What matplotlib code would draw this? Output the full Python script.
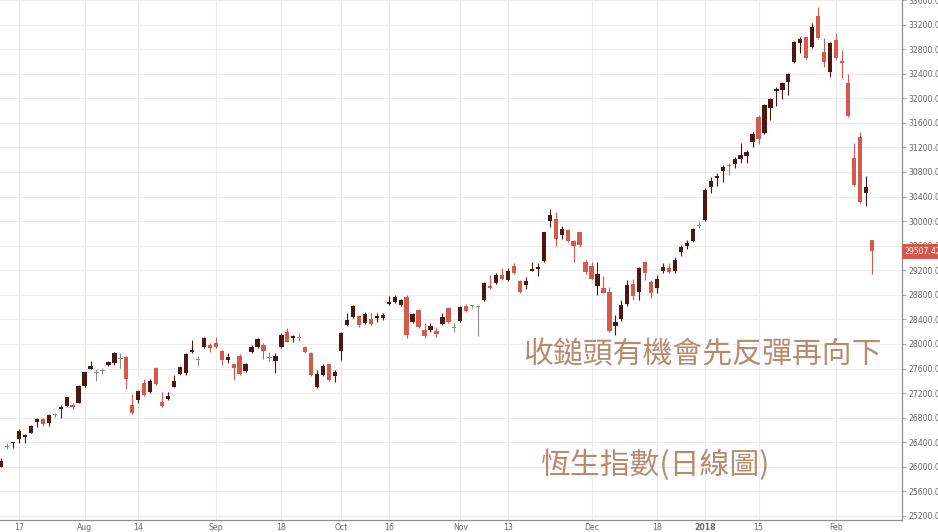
import numpy as np
import matplotlib.pyplot as plt
from matplotlib.ticker import FixedLocator

# daily OHLC, Hang Seng Index, early Jul 2017 - 9 Feb 2018
opens = [26000, 26330, 26385, 26453, 26480, 26556, 26735, 26779, 26709, 26840,
         26937, 26990, 27000, 27044, 27321, 27598, 27540, 27560, 27658, 27685,
         27750, 27793, 27002, 27088, 27360, 27223, 27614, 27050, 27099, 27305,
         27506, 27533, 27865, 27745, 27956, 27983, 28021, 27886, 27739, 27674,
         27810, 27560, 27865, 27956, 27983, 27780, 27723, 27956, 28200, 28092,
         28108, 27951, 27848, 27305, 27495, 27669, 27484, 27886, 28309, 28444,
         28455, 28336, 28401, 28423, 28418, 28651, 28689, 28635, 28770, 28353,
         28553, 28228, 28228, 28211, 28320, 28590, 28260, 28379, 28624, 28620,
         28605, 28716, 28949, 28988, 29123, 29042, 29275, 29025, 28960, 29188,
         29221, 29356, 30007, 30035, 29774, 29856, 29682, 29818, 29340, 29275,
         28944, 28906, 28841, 28293, 28401, 28645, 28971, 28851, 29340, 29004,
         28906, 29188, 29242, 29194, 29503, 29595, 29682, 29915, 30018, 30561,
         30697, 30816, 30898, 30930, 31007, 31060, 31293, 31700, 31430, 31836,
         32124, 32135, 32270, 32596, 32905, 32993, 32840, 33340, 32759, 32433,
         32949, 32607, 32254, 31033, 31375, 30453, 29693]
highs = [26150, 26385, 26410, 26616, 26535, 26681, 26790, 26795, 26860, 26870,
         27002, 27142, 27045, 27332, 27550, 27728, 27593, 27604, 27728, 27865,
         27858, 27800, 27181, 27251, 27430, 27425, 27620, 27223, 27223, 27495,
         27642, 27858, 28065, 27804, 28119, 28010, 28119, 27902, 27858, 27690,
         27832, 27696, 27983, 28092, 28010, 27875, 27848, 28174, 28255, 28146,
         28174, 27967, 27865, 27576, 27669, 27680, 27576, 28200, 28499, 28635,
         28472, 28515, 28499, 28499, 28499, 28781, 28797, 28732, 28797, 28499,
         28570, 28336, 28336, 28282, 28499, 28607, 28336, 28624, 28645, 28640,
         28640, 29015, 29123, 29160, 29232, 29232, 29313, 29042, 29096, 29340,
         29313, 29828, 30192, 30154, 29921, 29867, 29700, 29828, 29367, 29340,
         29340, 29107, 28923, 28472, 28716, 29042, 29053, 29258, 29356, 29042,
         29123, 29323, 29313, 29421, 29611, 29693, 29883, 30007, 30534, 30724,
         30789, 30914, 30941, 31049, 31267, 31158, 31456, 31728, 31907, 31999,
         32189, 32270, 32416, 32937, 33003, 33003, 33220, 33491, 32976, 32922,
         33058, 32786, 32395, 31277, 31456, 30735, 29700]
lows = [25990, 26285, 26300, 26388, 26395, 26546, 26644, 26665, 26670, 26806,
        26790, 26980, 26937, 27034, 27305, 27590, 27402, 27511, 27642, 27658,
        27604, 27267, 26860, 27044, 27150, 27207, 27332, 26970, 27088, 27300,
        27495, 27495, 27848, 27642, 27930, 27875, 27940, 27658, 27685, 27414,
        27495, 27549, 27848, 27940, 27756, 27723, 27523, 27930, 28027, 28027,
        28049, 27858, 27484, 27289, 27484, 27397, 27376, 27739, 28298, 28418,
        28282, 28320, 28309, 28353, 28390, 28640, 28662, 28624, 28102, 28336,
        28265, 28102, 28200, 28119, 28309, 28336, 28200, 28353, 28525, 28590,
        28130, 28705, 28890, 28977, 29042, 29031, 29140, 28825, 28890, 29180,
        29107, 29340, 29910, 29595, 29704, 29665, 29340, 29573, 29140, 29042,
        28797, 28825, 28200, 28146, 28379, 28618, 28716, 28716, 29042, 28743,
        28825, 29161, 29161, 29161, 29432, 29541, 29665, 29883, 30007, 30463,
        30572, 30642, 30751, 30860, 30941, 30952, 31212, 31256, 31418, 31646,
        31874, 31988, 32053, 32580, 32732, 32635, 32813, 32960, 32514, 32341,
        32635, 32325, 31700, 30570, 30300, 30246, 29140]
closes = [26100, 26345, 26405, 26578, 26525, 26665, 26774, 26698, 26844, 26850,
          26969, 27132, 26980, 27316, 27539, 27642, 27530, 27570, 27702, 27848,
          27760, 27425, 26871, 27240, 27169, 27402, 27343, 26990, 27153, 27397,
          27630, 27837, 27902, 27755, 28102, 27940, 27956, 27739, 27793, 27604,
          27506, 27669, 27956, 28076, 27886, 27775, 27810, 28146, 28037, 28130,
          28092, 27875, 27495, 27506, 27642, 27414, 27549, 28174, 28390, 28618,
          28309, 28488, 28325, 28461, 28477, 28689, 28770, 28716, 28146, 28483,
          28282, 28135, 28298, 28157, 28444, 28353, 28270, 28597, 28537, 28628,
          28610, 28988, 28906, 29123, 29053, 29188, 29150, 28841, 29031, 29221,
          29248, 29818, 30100, 29709, 29867, 29682, 29600, 29611, 29167, 29058,
          29134, 28835, 28217, 28363, 28635, 28960, 28781, 29232, 29161, 28835,
          29058, 29258, 29177, 29367, 29584, 29639, 29867, 29925, 30507, 30653,
          30735, 30887, 30908, 31007, 31072, 31121, 31414, 31332, 31891, 31983,
          32146, 32254, 32395, 32922, 32960, 32651, 33155, 32976, 32596, 32895,
          32651, 32569, 31712, 30588, 30317, 30551, 29507.42]

tick_days = [3, 14, 23, 36, 47, 57, 65, 77, 85, 99, 110, 118, 127, 140]
tick_labels = ["17", "Aug", "14", "Sep", "18", "Oct", "16", "Nov", "13",
               "Dec", "18", "2018", "15", "Feb"]
last_close = closes[-1]

up_col = "#4c1611"
down_col = "#d5594c"
doji_col = "#8c8c8c"

o = np.array(opens, dtype=float)
h = np.array(highs, dtype=float)
l = np.array(lows, dtype=float)
c = np.array(closes, dtype=float)
x = np.arange(len(o))

cols = np.where(np.abs(c - o) < 20, doji_col, np.where(c >= o, up_col, down_col))
body_lo = np.minimum(o, c)
body_h = np.maximum(np.abs(c - o), 14)

fig = plt.figure(figsize=(9.38, 5.32), dpi=100)
ax = fig.add_axes([0, 12 / 532, 902 / 938, 520 / 532])

ax.vlines(x, l, h, colors=cols, linewidth=0.8, zorder=2)
ax.bar(x, body_h, bottom=body_lo, width=0.72, color=cols, linewidth=0, zorder=3)

ax.set_xlim(-0.18, 151.06)
ax.set_ylim(25134, 33600)

ax.yaxis.tick_right()
ax.yaxis.set_major_locator(FixedLocator(np.arange(25200, 33601, 400)))
ax.yaxis.set_major_formatter(lambda v, p: f"{v:.2f}")
ax.set_xticks(tick_days)
ax.set_xticklabels(tick_labels)
for t in ax.get_xticklabels():
    if t.get_text() == "2018":
        t.set_fontweight("bold")

ax.tick_params(axis="y", length=3, width=0.6, color="#999999", labelsize=5.6,
               labelcolor="#666666", pad=1.5)
ax.tick_params(axis="x", length=0, labelsize=5.6, labelcolor="#666666", pad=2.5)
ax.grid(True, color="#ececec", linewidth=0.8, zorder=0)
ax.set_axisbelow(True)
for s in ["top", "left"]:
    ax.spines[s].set_visible(False)
for s in ["right", "bottom"]:
    ax.spines[s].set_color("#8f8f8f")
    ax.spines[s].set_linewidth(0.9)

ax.annotate(f"{last_close:.2f}", xy=(1, last_close), xycoords=("axes fraction", "data"),
            xytext=(2, 0), textcoords="offset points", va="center", ha="left",
            fontsize=5.6, color="white",
            bbox=dict(boxstyle="square,pad=0.4", fc=down_col, ec="none"),
            annotation_clip=False)

cjk = ["Noto Sans CJK TC", "DejaVu Sans"]
ax.text(0.779, 0.317, "收鎚頭有機會先反彈再向下", family=cjk, fontsize=21.5,
        color="#b88b70", ha="center", va="center", zorder=5,
        transform=ax.transAxes)
ax.text(0.726, 0.106, "恆生指數(日線圖)", family=cjk, fontsize=21.5,
        color="#b88b70", ha="center", va="center", zorder=5,
        transform=ax.transAxes)

fig.savefig("out.png", dpi=100)
